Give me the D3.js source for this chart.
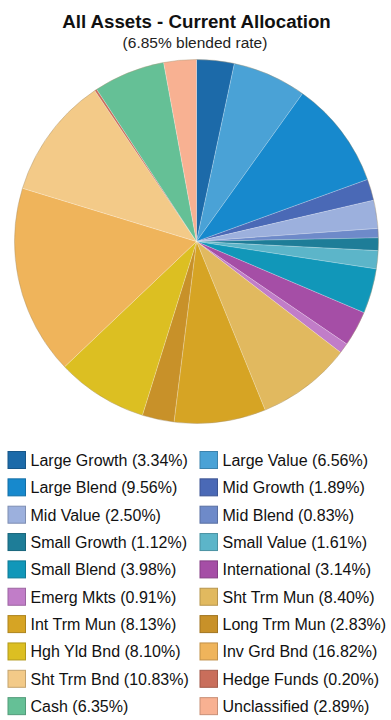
<!DOCTYPE html>
<html>
<head>
<meta charset="utf-8">
<script src="https://cdn.jsdelivr.net/npm/d3@7"></script>
<style>
  html, body { margin: 0; padding: 0; background: #fff; }
  svg { display: block; }
</style>
</head>
<body>
<svg id="chart" width="391" height="720"></svg>
<script>
const categories = ["Large Growth","Large Value","Large Blend","Mid Growth","Mid Value","Mid Blend",
  "Small Growth","Small Value","Small Blend","International","Emerg Mkts","Sht Trm Mun",
  "Int Trm Mun","Long Trm Mun","Hgh Yld Bnd","Inv Grd Bnd","Sht Trm Bnd","Hedge Funds","Cash","Unclassified"];
const values = [3.34,6.56,9.56,1.89,2.50,0.83,1.12,1.61,3.98,3.14,0.91,8.40,8.13,2.83,8.10,16.82,10.83,0.20,6.35,2.89];
const colors = ["#1c6aa9","#4aa2d6","#1789cd","#4a69b6","#9cb0dd","#6e8ac9",
  "#1e7d98","#5cb5c9","#1197b9","#a54ea6","#c17dc8","#e1b95f",
  "#d6a424","#c89129","#dcbf22","#efb45b","#f3ca88","#c96e5b","#65c096","#f8b192"];
const title = "All Assets - Current Allocation";
const subtitle = "(6.85% blended rate)";

const svg = d3.select("#chart");
const font = "Arial, 'Liberation Sans', sans-serif";

svg.append("text").attr("x", 196.5).attr("y", 28).attr("text-anchor", "middle")
  .attr("font-family", font).attr("font-weight", "bold").attr("font-size", 18.7)
  .attr("fill", "#111").text(title);
svg.append("text").attr("x", 195).attr("y", 48).attr("text-anchor", "middle")
  .attr("font-family", font).attr("font-size", 15.5)
  .attr("fill", "#222").text(subtitle);

const cx = 196.5, cy = 241.5, r = 182;
const pie = d3.pie().sort(null).value(d => d.v);
const arc = d3.arc().innerRadius(0).outerRadius(r);
const data = categories.map((c, i) => ({c, v: values[i], col: colors[i]}));
const g = svg.append("g").attr("transform", `translate(${cx},${cy})`);
g.selectAll("path").data(pie(data)).join("path")
  .attr("d", arc)
  .attr("fill", d => d.data.col)
  .attr("stroke", "rgba(255,255,255,0.35)")
  .attr("stroke-width", 0.6);
g.append("circle").attr("r", r).attr("fill", "none")
  .attr("stroke", "rgba(120,90,40,0.35)").attr("stroke-width", 0.8);

// legend
const colX = [8, 200];
const row0 = 460, rowH = 27.35;
const leg = svg.append("g");
data.forEach((d, i) => {
  const col = i % 2, row = Math.floor(i / 2);
  const x = colX[col], y = row0 + row * rowH;
  leg.append("rect").attr("x", x).attr("y", y - 8.5).attr("width", 17.5).attr("height", 17)
    .attr("fill", d.col).attr("stroke", d3.color(d.col).darker(0.6)).attr("stroke-width", 1);
  leg.append("text").attr("x", x + 22.5).attr("y", y + 5.8)
    .attr("font-family", font).attr("font-size", 16).attr("fill", "#111")
    .text(`${d.c} (${d.v.toFixed(2)}%)`);
});
</script>
</body>
</html>
